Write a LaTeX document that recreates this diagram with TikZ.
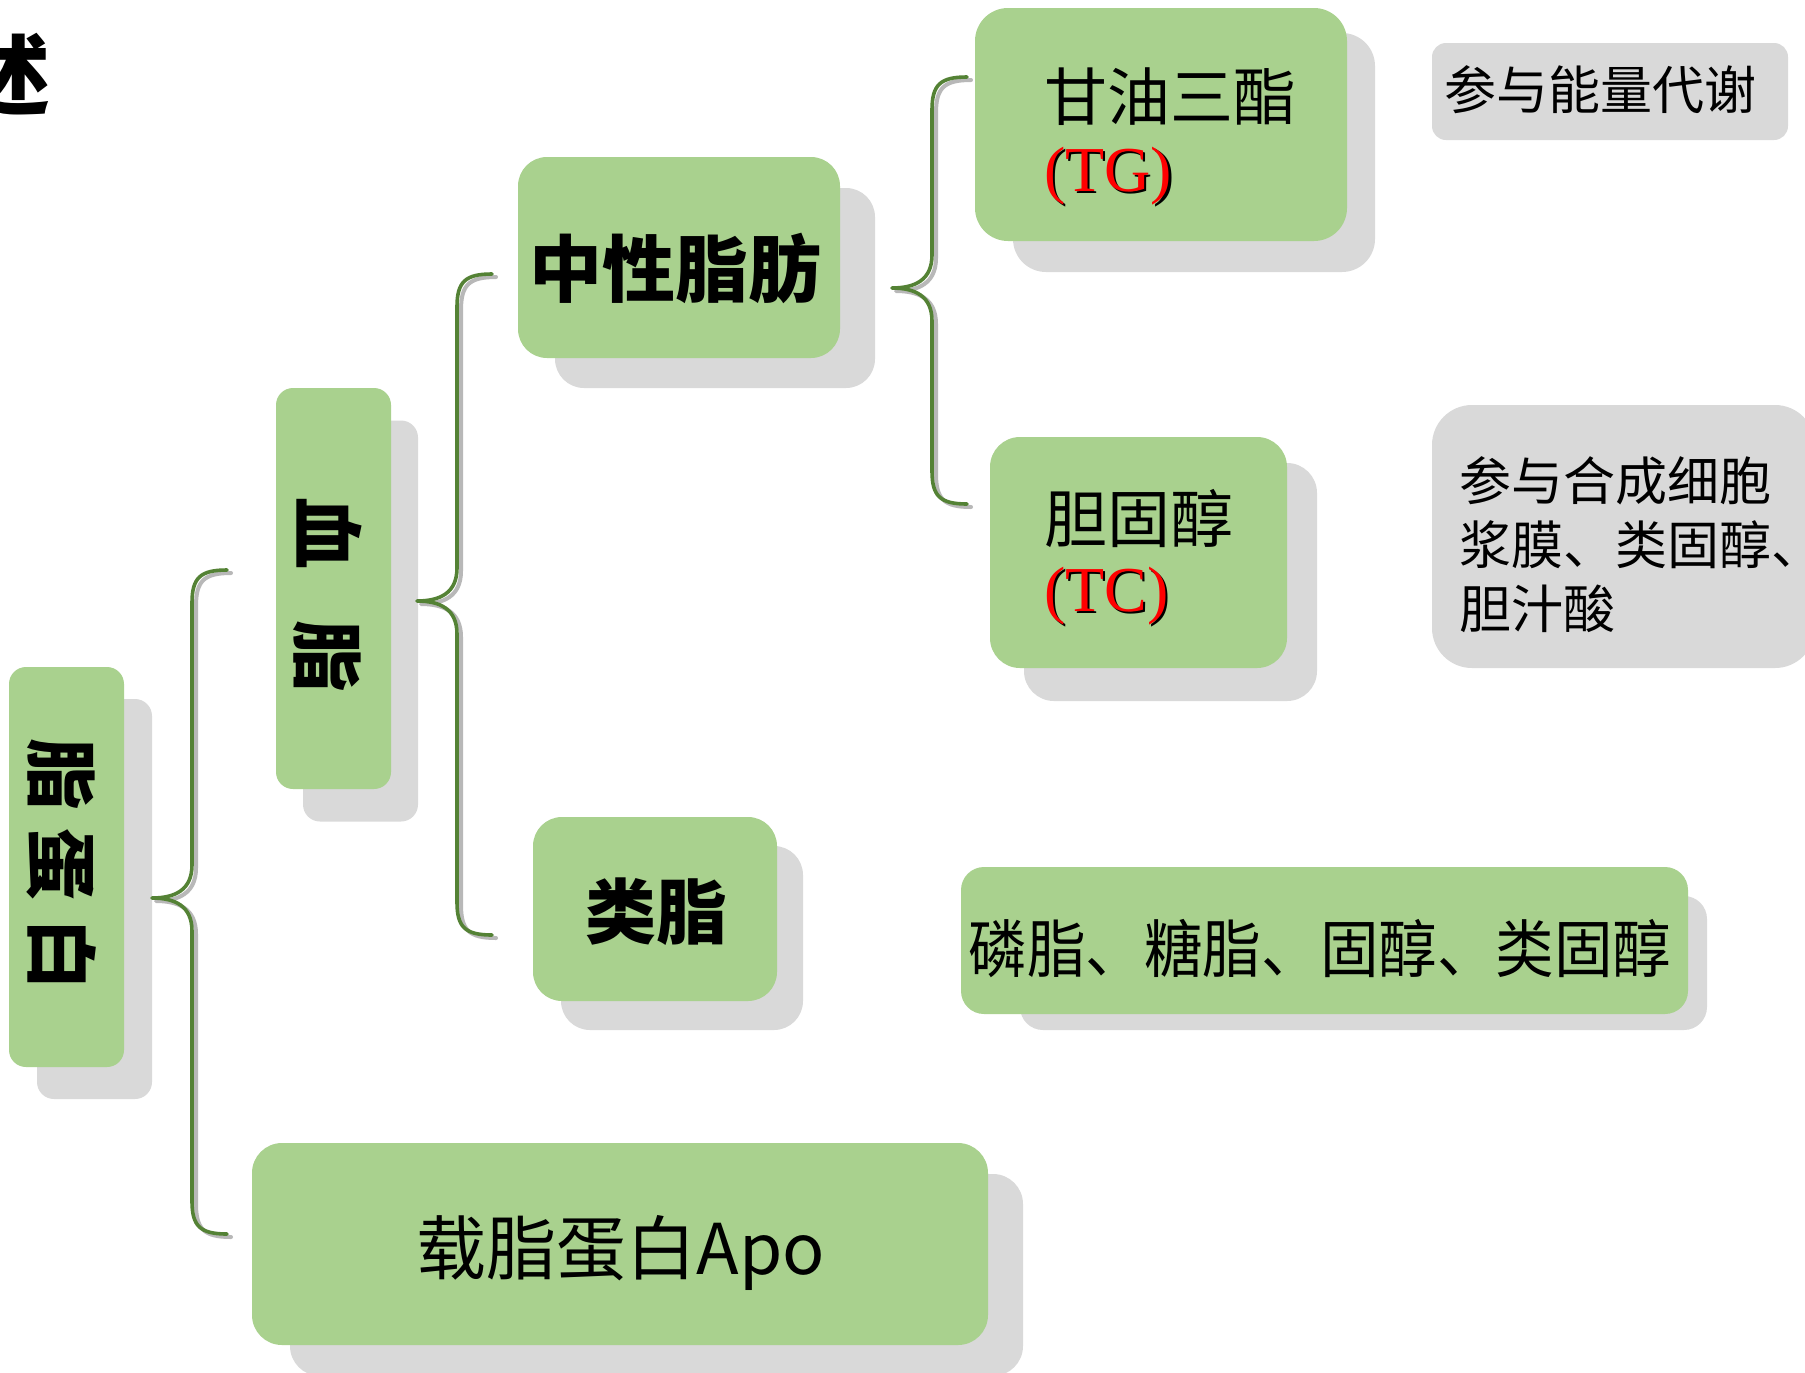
\documentclass[tikz,border=0pt]{standalone}
\usepackage{fontspec}
\setmainfont{Noto Sans CJK SC}
\newfontfamily\tms{Liberation Serif}
\usetikzlibrary{calc}
\definecolor{boxgreen}{HTML}{A9D18E}
\definecolor{shadowgray}{HTML}{D9D9D9}
\definecolor{bracegreen}{HTML}{548235}
\definecolor{abbrred}{HTML}{FF0000}
\tikzset{
  gbox/.style={fill=boxgreen, draw=none, inner sep=0pt, outer sep=0pt},
  sbox/.style={fill=shadowgray, draw=none, inner sep=0pt, outer sep=0pt},
  graybox/.style={fill=shadowgray, draw=none, inner sep=0pt, outer sep=0pt},
  txt/.style={inner sep=0pt, outer sep=0pt, text=black},
  bracel/.style={draw=bracegreen, line width=1.8pt, line cap=round, line join=round},
  braceshade/.style={draw=black!28, line width=2pt, line cap=round, line join=round,
    transform canvas={shift={(2pt,-1.5pt)}}},
  bracepath/.style={insert path={(#1top) .. controls +(-27,0) and +(0,-25) .. ($(#1top)+(-35,33)$)
    -- ($(#1tip)+(40,-33)$) .. controls +(0,25) and +(23,0) .. (#1tip)
    .. controls +(23,0) and +(0,-25) .. ($(#1tip)+(40,33)$)
    -- ($(#1bot)+(-35,-33)$) .. controls +(0,25) and +(-27,0) .. (#1bot)}}
}
\begin{document}
\begin{tikzpicture}[x=0.5pt,y=-0.5pt]
\clip (0,0) rectangle (1805,1372);
\fill[white] (0,0) rectangle (1805,1372);

% title fragment
\node[txt, anchor=east, font=\fontsize{44}{44}\selectfont\bfseries] (shu) at (50,75) {述};

% shadows
\node[sbox, rounded corners=8.5pt, minimum width=57.5pt, minimum height=200pt] (lipos) at (94.5,899) {};
\node[sbox, rounded corners=8.5pt, minimum width=57.5pt, minimum height=200.5pt] (xuezhis) at (360.5,621) {};
\node[sbox, rounded corners=14.5pt, minimum width=160pt, minimum height=100pt] (neuts) at (715,288) {};
\node[sbox, rounded corners=14.5pt, minimum width=121pt, minimum height=92pt] (leizhis) at (682,938) {};
\node[sbox, rounded corners=16.5pt, minimum width=181pt, minimum height=119.5pt] (tgs) at (1194,152.5) {};
\node[sbox, rounded corners=15pt, minimum width=146.5pt, minimum height=119pt] (tcs) at (1170.5,582) {};
\node[sbox, rounded corners=11.5pt, minimum width=343.5pt, minimum height=67pt] (phoss) at (1363.5,963) {};
\node[sbox, rounded corners=15pt, minimum width=366.5pt, minimum height=101pt] (apos) at (656.5,1275) {};

% green boxes
\node[gbox, rounded corners=8.5pt, minimum width=57.5pt, minimum height=200pt] (lipo) at (66.5,867) {};
\node[gbox, rounded corners=8.5pt, minimum width=57.5pt, minimum height=200.5pt] (xuezhi) at (333.5,588.5) {};
\node[gbox, rounded corners=14.5pt, minimum width=161pt, minimum height=100.5pt] (neut) at (679,257.5) {};
\node[gbox, rounded corners=14.5pt, minimum width=122pt, minimum height=92pt] (leizhi) at (655,909) {};
\node[gbox, rounded corners=16.5pt, minimum width=186pt, minimum height=116.5pt] (tg) at (1161,124.5) {};
\node[gbox, rounded corners=15pt, minimum width=148.5pt, minimum height=115.5pt] (tc) at (1138.5,552.5) {};
\node[gbox, rounded corners=11.5pt, minimum width=363.5pt, minimum height=73.5pt] (phos) at (1324.5,940.5) {};
\node[gbox, rounded corners=15pt, minimum width=368pt, minimum height=101pt] (apo) at (620,1244) {};

% gray note boxes
\node[graybox, rounded corners=7pt, minimum width=178pt, minimum height=48.5pt] (energy) at (1610,91.5) {};
\node[graybox, rounded corners=20pt, minimum width=191.5pt, minimum height=131.5pt] (membrane) at (1623.5,536.5) {};

% texts
\node[txt, rotate=-90, font=\fontsize{36}{36}\selectfont\bfseries] (lipotxt) at (62,864) {脂\hspace{9pt}蛋\hspace{9pt}白};
\node[txt, rotate=-90, font=\fontsize{36}{36}\selectfont\bfseries] (xuezhitxt) at (328,595) {血\hspace{26pt}脂};
\node[txt, font=\fontsize{36.5}{36.5}\selectfont\bfseries] (neuttxt) at (675.5,268) {中性脂肪};
\node[txt, font=\fontsize{35.5}{35.5}\selectfont\bfseries] (leizhitxt) at (656,911.5) {类脂};
\node[txt, anchor=west, font=\fontsize{31.5}{31.5}\selectfont] (tgtxt) at (1044,96.5) {甘油三酯};
\node[txt, anchor=west, font=\fontsize{32}{32}\selectfont\tms] (tgabbrs) at (1046.5,178.5) {(TG)};
\node[txt, anchor=west, text=abbrred, font=\fontsize{32}{32}\selectfont\tms] (tgabbr) at (1044,176) {(TG)};
\node[txt, anchor=west, font=\fontsize{31.5}{31.5}\selectfont] (tctxt) at (1044,518) {胆固醇};
\node[txt, anchor=west, font=\fontsize{32}{32}\selectfont\tms] (tcabbrs) at (1046.5,598.5) {(TC)};
\node[txt, anchor=west, text=abbrred, font=\fontsize{32}{32}\selectfont\tms] (tcabbr) at (1044,596) {(TC)};
\node[txt, font=\fontsize{31.5}{31.5}\selectfont] (phostxt) at (1320,948.5) {\scalebox{0.93}[1]{磷脂、糖脂、固醇、类固醇}};
\node[txt, font=\fontsize{35}{35}\selectfont] (apotxt) at (621,1253) {载脂蛋白Apo};
\node[txt, anchor=west, font=\fontsize{26}{26}\selectfont] (energytxt) at (1444,89.5) {参与能量代谢};
\node[txt, anchor=west, align=left, font=\fontsize{26}{32}\selectfont] (membranetxt) at (1459,545) {参与合成细胞\\浆膜、类固醇、\\胆汁酸};

% brace coordinates
\coordinate (b1tip) at (152,898);
\coordinate (b1top) at (227,570);
\coordinate (b1bot) at (227,1234);
\coordinate (b2tip) at (417,601);
\coordinate (b2top) at (492,274);
\coordinate (b2bot) at (492,935);
\coordinate (b3tip) at (892,288);
\coordinate (b3top) at (967,77);
\coordinate (b3bot) at (967,504);

% braces (shadow then line)
\draw[braceshade, bracepath=b1];
\draw[braceshade, bracepath=b2];
\draw[braceshade, bracepath=b3];
\draw[bracel, bracepath=b1];
\draw[bracel, bracepath=b2];
\draw[bracel, bracepath=b3];
\end{tikzpicture}
\end{document}
